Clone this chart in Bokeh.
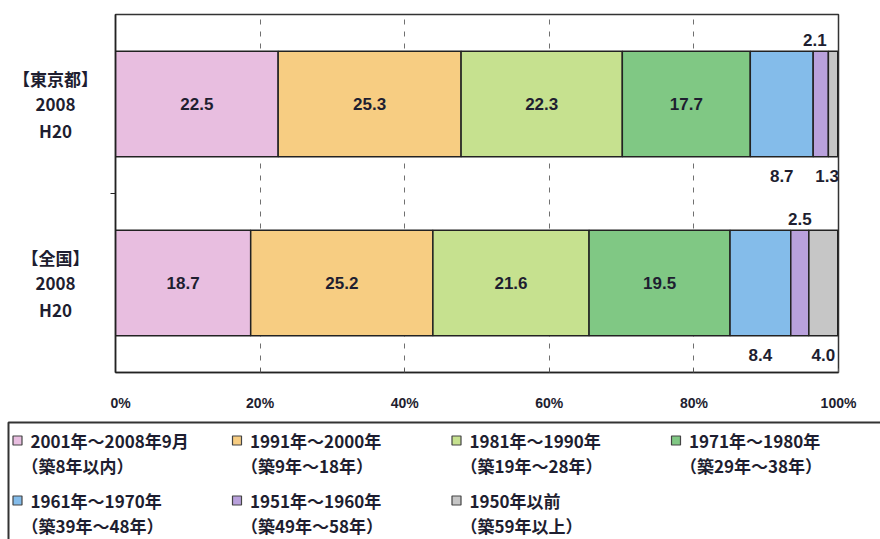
import numpy as np
from bokeh.plotting import figure
from bokeh.models import ColumnDataSource, FixedTicker, Range1d
from bokeh.layouts import row
from bokeh.embed import file_html
from bokeh.resources import INLINE
from bokeh.core.properties import value

# ---------------- data ----------------
categories = ["【東京都】\n2008\nH20", "【全国】\n2008\nH20"]
series_years = ["2001年～2008年9月", "1991年～2000年", "1981年～1990年", "1971年～1980年",
                "1961年～1970年", "1951年～1960年", "1950年以前"]
series_ages = ["（築8年以内）", "（築9年～18年）", "（築19年～28年）", "（築29年～38年）",
               "（築39年～48年）", "（築49年～58年）", "（築59年以上）"]
tokyo = [22.5, 25.3, 22.3, 17.7, 8.7, 2.1, 1.3]
national = [18.7, 25.2, 21.6, 19.5, 8.4, 2.5, 4.0]
label_side = ["in", "in", "in", "in", "below", "above", "below"]
colors = ["#E8BEE0", "#F7CD82", "#C6E18F", "#80C884", "#84BCEA", "#B9A1DC", "#C6C6C6"]
x_ticks = [0, 20, 40, 60, 80, 100]
x_tick_labels = ["0%", "20%", "40%", "60%", "80%", "100%"]

FONT = "Noto Sans CJK JP"
TXT = "#1e1e30"

# ---------------- main chart ----------------
p = figure(width=770, height=415, output_backend="svg", toolbar_location=None,
           x_range=Range1d(0, 100), y_range=Range1d(0, 2),
           min_border_left=0, min_border_right=42, min_border_top=14, min_border_bottom=43)
p.background_fill_color = "white"
p.border_fill_color = "white"
p.outline_line_color = "#333333"
p.outline_line_width = 1.5

ycenters = [1.5, 0.5]
bar_h = 0.59
rows = [tokyo, national]
lefts, rights, ys, cols, txt, tx, ty, toff, xoff = [], [], [], [], [], [], [], [], []
for k, (vals, yc) in enumerate(zip(rows, ycenters)):
    v = np.array(vals)
    r = np.cumsum(v)
    l = r - v
    for i in range(len(v)):
        lefts.append(l[i]); rights.append(r[i]); ys.append(yc); cols.append(colors[i])
        txt.append(f"{v[i]:.1f}")
        tx.append((l[i] + r[i]) / 2)
        side = label_side[i]
        # keep the outside labels of the thin tail segments inside the frame
        xoff.append(-6 if (k == 0 and i >= 5) else 0)
        if side == "in":
            ty.append(yc); toff.append(0)
        elif side == "above":
            ty.append(yc + bar_h / 2); toff.append(-11)
        else:
            ty.append(yc - bar_h / 2); toff.append(19)

src = ColumnDataSource(dict(left=lefts, right=rights, y=ys, color=cols))
p.hbar(y="y", left="left", right="right", height=bar_h, fill_color="color",
       line_color="#222222", line_width=1.5, source=src)

lsrc = ColumnDataSource(dict(x=tx, y=ty, t=txt, off=toff, xo=xoff))
p.text(x="x", y="y", text="t", x_offset="xo", y_offset="off", source=lsrc, text_align="center",
       text_baseline="middle", text_font=value("Liberation Sans"), text_font_style="bold",
       text_font_size="17px", text_color=TXT)

# grid
p.xgrid.ticker = FixedTicker(ticks=x_ticks[1:-1])
p.xgrid.grid_line_color = "#707070"
p.xgrid.grid_line_dash = "5 7"
p.xgrid.grid_line_width = 1
p.ygrid.grid_line_color = None

# x axis
p.xaxis.ticker = FixedTicker(ticks=x_ticks)
p.xaxis.major_label_overrides = {t: s for t, s in zip(x_ticks, x_tick_labels)}
p.xaxis.major_label_text_font = "Liberation Sans"
p.xaxis.major_label_text_font_style = "bold"
p.xaxis.major_label_text_font_size = "14px"
p.xaxis.major_label_text_color = TXT
p.xaxis.major_label_standoff = 22
p.xaxis.major_tick_in = 4
p.xaxis.major_tick_out = 0
p.xaxis.minor_tick_line_color = None
p.xaxis.axis_line_color = "#222222"
p.xaxis.axis_line_width = 1.5
p.xaxis.major_tick_line_color = "#555555"

# y axis (category labels drawn in the side panel)
p.yaxis.ticker = FixedTicker(ticks=[], minor_ticks=[1.0])
p.yaxis.major_label_standoff = 0
p.yaxis.major_tick_in = 0
p.yaxis.major_tick_out = 0
p.yaxis.minor_tick_in = 0
p.yaxis.minor_tick_out = 5
p.yaxis.minor_tick_line_color = "#222222"
p.yaxis.axis_line_color = "#222222"
p.yaxis.axis_line_width = 1.5

# ---------------- category label panel (shares y scale) ----------------
s = figure(width=110, height=415, output_backend="svg", toolbar_location=None,
           x_range=Range1d(0, 110), y_range=p.y_range,
           min_border_left=0, min_border_right=0, min_border_top=14, min_border_bottom=43)
s.axis.visible = False
s.grid.visible = False
s.outline_line_color = None
s.border_fill_color = "white"
cl_x, cl_y, cl_t, cl_o = [], [], [], []
for yc, cat in zip(ycenters, categories):
    lines = cat.split("\n")
    for j, ln in enumerate(lines):
        cl_x.append(55); cl_y.append(yc); cl_t.append(ln)
        cl_o.append((j - (len(lines) - 1) / 2) * 26)
s.text(x=cl_x, y=cl_y, text=cl_t, y_offset=cl_o, text_align="center", text_baseline="middle",
       text_font=value(FONT), text_font_style="bold", text_font_size="17px", text_color=TXT)

# ---------------- legend panel ----------------
q = figure(width=880, height=124, output_backend="svg", toolbar_location=None,
           x_range=Range1d(0, 880), y_range=Range1d(124, 0),
           min_border=0, min_border_left=0, min_border_right=0,
           min_border_top=0, min_border_bottom=0)
q.axis.visible = False
q.grid.visible = False
q.outline_line_color = None
q.background_fill_color = "white"
q.border_fill_color = "white"

q.quad(left=[8], right=[900], top=[7], bottom=[140], fill_color=None,
       line_color="#333333", line_width=2)

n = len(series_years)
col_idx = np.arange(n) % 4
row_idx = np.arange(n) // 4
x0 = 12 + col_idx * 219.5
y1 = 25 + row_idx * 60
q.rect(x=x0 + 5, y=y1, width=9, height=9, fill_color=colors, line_color="#444444",
       line_width=1.2)
q.text(x=x0 + 18, y=y1, text=series_years, text_baseline="middle", text_align="left",
       text_font=value(FONT), text_font_style="bold", text_font_size="17px",
       text_color=TXT)
q.text(x=x0 + 9, y=y1 + 25, text=series_ages, text_baseline="middle", text_align="left",
       text_font=value(FONT), text_font_style="bold", text_font_size="17px",
       text_color=TXT)

top = row(s, p, spacing=0)
open("out.html", "w").write(file_html([top, q], INLINE))
